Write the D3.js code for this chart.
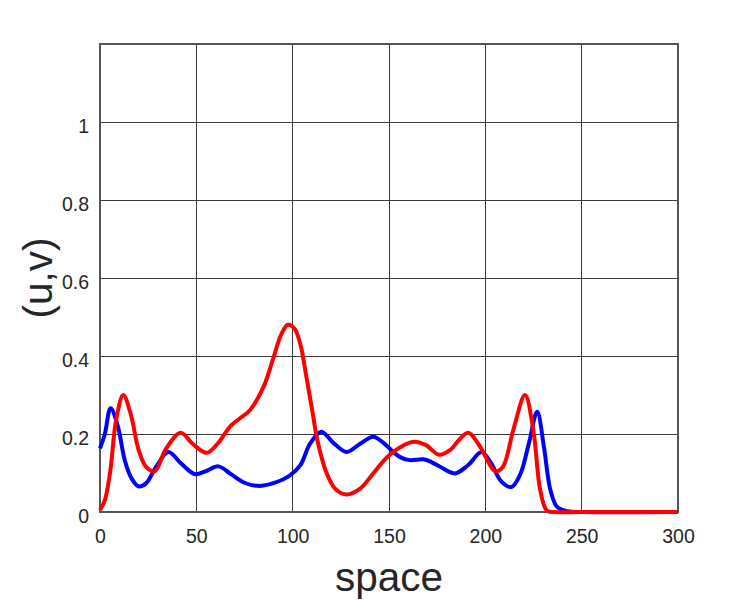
<!DOCTYPE html>
<html><head><meta charset="utf-8">
<script src="https://cdn.jsdelivr.net/npm/d3@7"></script>
<style>body{margin:0;background:#fff}svg{display:block}</style>
</head><body>
<svg id="c" width="750" height="600"></svg>
<script>
// space positions and values for u (blue)
const uSpace = [0, 2.5, 5.5, 9, 13, 16.5, 20, 24, 29, 35.5, 42, 49.3, 55, 61.5, 68, 75, 82, 90, 98.6, 104, 109, 114.9, 121, 128, 135, 141.8, 147, 152.2, 156, 160.9, 167.8, 172, 176.5, 184.2, 191, 198, 203, 208, 213.5, 218, 222.6, 226.9, 230.4, 233.8, 237.3, 242.5, 250, 300];
const uVals  = [0.163, 0.2, 0.266, 0.225, 0.13, 0.085, 0.066, 0.074, 0.115, 0.154, 0.125, 0.097, 0.105, 0.117, 0.097, 0.075, 0.067, 0.074, 0.094, 0.12, 0.175, 0.206, 0.178, 0.154, 0.175, 0.193, 0.178, 0.154, 0.14, 0.133, 0.135, 0.128, 0.116, 0.099, 0.12, 0.154, 0.125, 0.08, 0.064, 0.095, 0.176, 0.257, 0.167, 0.056, 0.013, 0.002, 0, 0];
// space positions and values for v (red)
const vSpace = [0, 2.5, 5.2, 8.5, 12.1, 16, 20, 24, 28.5, 34, 41.9, 48, 55.4, 61, 67.5, 72, 77.8, 84.8, 90, 94, 97.5, 101, 104, 107, 110, 113, 117.6, 122, 128, 135, 142, 147, 152.2, 162.6, 169, 176, 182, 186, 191.1, 197, 205, 209, 214.5, 220.6, 224.9, 228.5, 231.9, 236, 250, 300];
const vVals  = [0.005, 0.03, 0.1, 0.24, 0.3, 0.25, 0.16, 0.115, 0.105, 0.16, 0.203, 0.175, 0.152, 0.175, 0.219, 0.238, 0.261, 0.32, 0.395, 0.455, 0.48, 0.47, 0.43, 0.35, 0.265, 0.18, 0.1, 0.06, 0.045, 0.06, 0.1, 0.13, 0.154, 0.18, 0.172, 0.147, 0.16, 0.183, 0.203, 0.17, 0.105, 0.115, 0.21, 0.30, 0.21, 0.056, 0.004, 0, 0, 0];
const xTicks = [0, 50, 100, 150, 200, 250, 300];
const yTicks = [0, 0.2, 0.4, 0.6, 0.8, 1];
const yGrid = [0, 0.2, 0.4, 0.6, 0.8, 1, 1.2];

const svg = d3.select("#c");
const L = 100, R = 678, T = 44, B = 512;
const x = d3.scaleLinear().domain([0, 300]).range([L, R]);
const y = d3.scaleLinear().domain([0, 1.2]).range([B, T]);
const font = "'Liberation Sans', Arial, sans-serif";

const g = svg.append("g");
// grid
g.selectAll(".vg").data(xTicks).join("line")
  .attr("x1", d => x(d)).attr("x2", d => x(d)).attr("y1", T).attr("y2", B)
  .attr("stroke", "#3a3a3a").attr("stroke-width", 1).attr("shape-rendering", "crispEdges");
g.selectAll(".hg").data(yGrid).join("line")
  .attr("x1", L).attr("x2", R).attr("y1", d => y(d)).attr("y2", d => y(d))
  .attr("stroke", "#3a3a3a").attr("stroke-width", 1).attr("shape-rendering", "crispEdges");
// border
g.append("rect").attr("x", L).attr("y", T).attr("width", R - L).attr("height", B - T)
  .attr("fill", "none").attr("stroke", "#555").attr("stroke-width", 1.2).attr("shape-rendering", "crispEdges");

// axes labels via d3 axes
const xAxis = d3.axisBottom(x).tickValues(xTicks).tickSize(0).tickPadding(17).tickFormat(d3.format("d"));
const yAxis = d3.axisLeft(y).tickValues(yTicks).tickSize(0).tickPadding(11).tickFormat(d => d === 0 ? "0" : d === 1 ? "1" : d3.format(".1f")(d));
svg.append("g").attr("transform", `translate(0,${B})`).call(xAxis)
  .call(a => a.select(".domain").remove())
  .selectAll("text").attr("font-family", font).attr("font-size", 19.5).attr("fill", "#262626");
svg.append("g").attr("transform", `translate(${L},0)`).call(yAxis)
  .call(a => a.select(".domain").remove())
  .selectAll("text").attr("font-family", font).attr("font-size", 19.5).attr("fill", "#262626").attr("dy", "0.56em");

// lines
const line = d3.line().x(d => x(d[0])).y(d => y(Math.max(0, d[1]))).curve(d3.curveCatmullRom.alpha(0.5));
const uData = uSpace.map((s, i) => [s, uVals[i]]);
const vData = vSpace.map((s, i) => [s, vVals[i]]);
svg.append("path").datum(uData).attr("d", line).attr("fill", "none").attr("stroke", "#0000ff").attr("stroke-width", 4).attr("stroke-linejoin", "round");
svg.append("path").datum(vData).attr("d", line).attr("fill", "none").attr("stroke", "#ff0000").attr("stroke-width", 4).attr("stroke-linejoin", "round");

// titles
svg.append("text").attr("x", (L + R) / 2).attr("y", 591).attr("text-anchor", "middle")
  .attr("font-family", font).attr("font-size", 40.5).attr("fill", "#262626").text("space");
svg.append("text").attr("transform", `translate(52,${(T + B) / 2}) rotate(-90)`).attr("text-anchor", "middle")
  .attr("font-family", font).attr("font-size", 40.5).attr("fill", "#262626").text("(u,v)");
</script>
</body></html>
